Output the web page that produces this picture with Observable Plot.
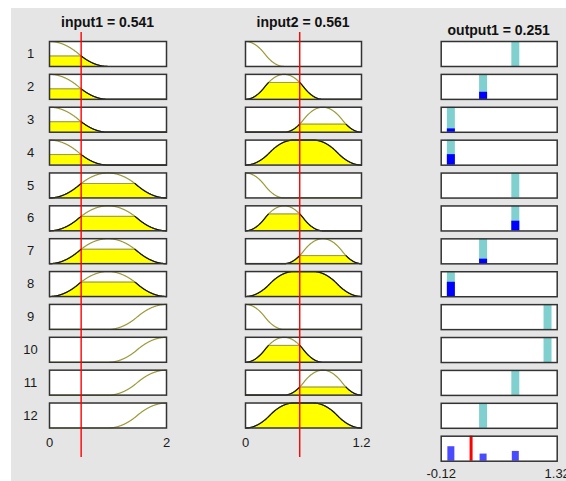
<!DOCTYPE html>
<html>
<head>
<meta charset="utf-8">
<script src="https://cdn.jsdelivr.net/npm/d3@7"></script>
<script src="https://cdn.jsdelivr.net/npm/@observablehq/plot@0.6"></script>
<style>
  body { margin: 0; background: #fff; }
  #fig { position: relative; width: 566px; height: 481px; overflow: hidden;
         font-family: "Liberation Sans", Arial, Helvetica, sans-serif; }
  #panel { position: absolute; left: 11px; top: 8px; right: 0; bottom: 0; background: #e5e5e5; }
  #fig svg { position: absolute; left: 0; top: 0; }
  .ttl { position: absolute; font-weight: bold; font-size: 14px; line-height: 14px; color: #111;
         transform: translateX(-50%); white-space: nowrap; }
</style>
</head>
<body>
<div id="fig"><div id="panel"></div></div>
<script>
// Fuzzy inference rule viewer: 2 inputs, 1 Sugeno output, 12 rules.
const rules = [1, 2, 3, 4, 5, 6, 7, 8, 9, 10, 11, 12];
const ruleInput1 = [1, 1, 1, 1, 2, 2, 2, 2, 3, 3, 3, 3];
const ruleInput2 = [1, 2, 3, 4, 1, 2, 3, 4, 1, 2, 3, 4];
const ruleOutput = [0.8, 0.4, 0, 0, 0.8, 0.8, 0.4, 0, 1.2, 1.2, 0.8, 0.4];
const firingStrength = [0, 0.285, 0.136, 0.421, 0, 0.391, 0.188, 0.579, 0, 0, 0, 0];

const input1Name = "input1";
const input1Range = [0, 2];
const input1Value = 0.541;
const input1MfTypes = ["zmf", "pimf", "smf"];
const input1MfParams = [[0, 1], [0, 1, 1, 2], [1, 2]];
const input1Degree = [0.421, 0.579, 0];
const input1Ticks = [0, 2];
const input1TickLabels = ["0", "2"];

const input2Name = "input2";
const input2Range = [0, 1.2];
const input2Value = 0.561;
const input2MfTypes = ["zmf", "pimf", "pimf", "pimf"];
const input2MfParams = [[0, 0.4], [0, 0.4, 0.4, 0.8], [0.4, 0.8, 0.8, 1.2], [0, 0.5, 0.7, 1.2]];
const input2Degree = [0, 0.676, 0.324, 1];
const input2Ticks = [0, 1.2];
const input2TickLabels = ["0", "1.2"];

const output1Name = "output1";
const output1View = [-0.12, 1.32];
const output1Value = 0.251;
const aggregateLevels = [0, 0.4, 0.8, 1.2];
const aggregateHeight = [0.579, 0.285, 0.391, 0];
const output1Ticks = [-0.12, 1.32];
const output1TickLabels = ["-0.12", "1.32"];

// Standard membership function shapes
function smf(x, [a, b]) {
  if (x <= a) return 0;
  if (x >= b) return 1;
  const t = (x - a) / (b - a);
  return x <= (a + b) / 2 ? 2 * t * t : 1 - 2 * (1 - t) * (1 - t);
}
function zmf(x, p) { return 1 - smf(x, p); }
function pimf(x, [a, b, c, d]) {
  if (x <= b) return smf(x, [a, b]);
  if (x >= c) return zmf(x, [c, d]);
  return 1;
}
const mfShape = {smf, zmf, pimf};

const W = 566, H = 481;
const FONT = '"Liberation Sans", Arial, Helvetica, sans-serif';
const ROW_TOP = 41, ROW_PITCH_PAD = 0.24;
const OLIVE = "#9c9a3a";
const style = {background: "transparent", fontFamily: FONT, fontSize: "13px", color: "#1a1a1a", overflow: "visible"};
const fig = document.getElementById("fig");

function inputColumn({range, types, params, degree, ruleMf, left, right, ticks, tickLabels, rowLabels}) {
  const xs = d3.range(401).map(i => range[0] + (range[1] - range[0]) * i / 400);
  const curve = rules.flatMap((r, i) => {
    const k = ruleMf[i] - 1;
    return xs.map(x => ({rule: r, x, mu: mfShape[types[k]](x, params[k]), level: degree[k]}));
  });
  const filled = curve.filter(d => d.level > 0);
  return Plot.plot({
    width: W, height: H,
    marginLeft: left, marginRight: W - right, marginTop: ROW_TOP, marginBottom: H - 427.5,
    style,
    x: {domain: range},
    y: {domain: [0, 1], axis: null},
    fy: {domain: rules, paddingInner: ROW_PITCH_PAD, paddingOuter: 0, round: false, label: null, axis: null},
    marks: [
      Plot.frame({fill: "white"}),
      Plot.line(curve, {x: "x", y: "mu", fy: "rule", stroke: OLIVE, strokeWidth: 1.2}),
      Plot.areaY(filled, {x: "x", y: d => Math.min(d.mu, d.level), fy: "rule", fill: "#ffff00"}),
      Plot.line(filled, {x: "x", y: d => Math.min(d.mu, d.level), fy: "rule", stroke: "#6e6e6e", strokeWidth: 1}),
      Plot.line(filled, {x: "x", y: d => (d.mu <= d.level + 1e-9 ? d.mu : NaN), fy: "rule", stroke: "#111", strokeWidth: 1.2}),
      Plot.frame({stroke: "#333", strokeWidth: 1.5}),
      rowLabels ? Plot.axisFy({anchor: "left", tickSize: 0, tickPadding: 19, textAnchor: "middle", label: null, fontSize: 13}) : null,
      Plot.axisX({ticks, tickFormat: d => tickLabels[ticks.indexOf(d)], tickSize: 0, tickPadding: 10, label: null, fontSize: 13})
    ]
  });
}

function valueLine({range, value, left, right}) {
  return Plot.plot({
    width: W, height: H,
    marginLeft: left, marginRight: W - right, marginTop: 32, marginBottom: H - 457,
    style,
    x: {domain: range, axis: null},
    y: {domain: [0, 1], axis: null},
    marks: [Plot.ruleX([value], {stroke: "#ff0000", strokeWidth: 1.4})]
  });
}

function outputColumn({left, right}) {
  const ruleRows = rules.map((r, i) => ({rule: r, z: ruleOutput[i], w: firingStrength[i]}));
  const aggRows = aggregateLevels.map((z, i) => ({rule: 13, z, h: aggregateHeight[i]}));
  return Plot.plot({
    width: W, height: H,
    marginLeft: left, marginRight: W - right, marginTop: ROW_TOP, marginBottom: H - 460.7,
    style,
    x: {domain: output1View},
    y: {domain: [0, 1], axis: null},
    fy: {domain: [...rules, 13], paddingInner: ROW_PITCH_PAD, paddingOuter: 0, round: false, label: null, axis: null},
    marks: [
      Plot.frame({fill: "white"}),
      Plot.ruleX(ruleRows, {x: "z", y1: 0, y2: 1, fy: "rule", stroke: "#80d0d0", strokeWidth: 8}),
      Plot.ruleX(ruleRows.filter(d => d.w > 0), {x: "z", y1: 0, y2: "w", fy: "rule", stroke: "#0000ff", strokeWidth: 8}),
      Plot.ruleX(aggRows.filter(d => d.h > 0), {x: "z", y1: 0, y2: "h", fy: "rule", stroke: "#4a4aff", strokeWidth: 7}),
      Plot.ruleX([output1Value], {x: d => d, y1: 0, y2: 1, fy: () => 13, stroke: "#ff0000", strokeWidth: 3}),
      Plot.frame({stroke: "#333", strokeWidth: 1.5}),
      Plot.axisX({ticks: output1Ticks, tickFormat: d => output1TickLabels[output1Ticks.indexOf(d)], tickSize: 0, tickPadding: 8, label: null, fontSize: 13})
    ]
  });
}

const col1 = {range: input1Range, left: 49, right: 166};
const col2 = {range: input2Range, left: 245, right: 361};
const col3 = {left: 440.7, right: 556.7};

fig.append(inputColumn({...col1, types: input1MfTypes, params: input1MfParams, degree: input1Degree,
  ruleMf: ruleInput1, ticks: input1Ticks, tickLabels: input1TickLabels, rowLabels: true}));
fig.append(inputColumn({...col2, types: input2MfTypes, params: input2MfParams, degree: input2Degree,
  ruleMf: ruleInput2, ticks: input2Ticks, tickLabels: input2TickLabels, rowLabels: false}));
fig.append(outputColumn(col3));
fig.append(valueLine({...col1, value: input1Value}));
fig.append(valueLine({...col2, value: input2Value}));

// Column titles
function title(text, cx, baseline) {
  const el = document.createElement("div");
  el.className = "ttl";
  el.textContent = text;
  el.style.left = cx + "px";
  el.style.top = (baseline - 12) + "px";
  fig.append(el);
}
title(`${input1Name} = ${input1Value}`, (col1.left + col1.right) / 2, 27);
title(`${input2Name} = ${input2Value}`, (col2.left + col2.right) / 2, 27);
title(`${output1Name} = ${output1Value}`, (col3.left + col3.right) / 2, 34.5);
</script>
</body>
</html>
